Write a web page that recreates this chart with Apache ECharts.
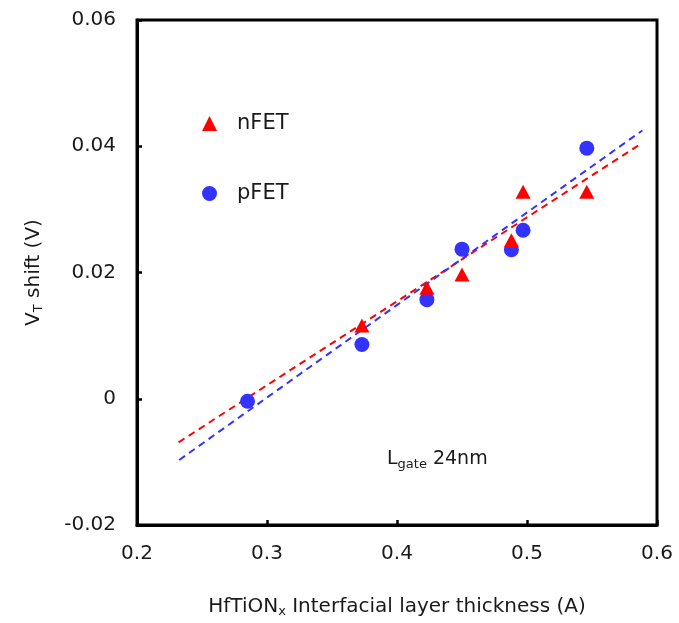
<!DOCTYPE html>
<html><head><meta charset="utf-8">
<script src="https://cdn.jsdelivr.net/npm/echarts@6/dist/echarts.min.js"></script>
<style>html,body{margin:0;padding:0;background:#fff}#c{width:679px;height:623px}</style>
</head><body><div id="c"></div>
<script>
// Data
const nfetX = [0.373, 0.423, 0.450, 0.488, 0.497, 0.546];
const nfetY = [0.0116, 0.0176, 0.0197, 0.0251, 0.0328, 0.0328];
const pfetX = [0.285, 0.373, 0.423, 0.450, 0.488, 0.497, 0.546];
const pfetY = [-0.0004, 0.0086, 0.0157, 0.0237, 0.0236, 0.0267, 0.0397];
// trend line endpoints
const nfetFitX = [0.232, 0.5885];
const nfetFitY = [-0.0069, 0.0405];
const pfetFitX = [0.2325, 0.5887];
const pfetFitY = [-0.0097, 0.0425];
const xTicks = [0.2, 0.3, 0.4, 0.5, 0.6];
const yTicks = [-0.02, 0, 0.02, 0.04, 0.06];

const zip = (a, b) => a.map((v, i) => [v, b[i]]);
const RED = '#FF0000', BLUE = '#3333FF';
const FONT = '"DejaVu Sans", sans-serif';
const TXT = '#1a1a1a';

const chart = echarts.init(document.getElementById('c'));
chart.setOption({
  animation: false,
  backgroundColor: '#fff',
  grid: { left: 137, right: 22, top: 20, bottom: 92, show: true, borderColor: '#000', borderWidth: 3 },
  xAxis: {
    type: 'value', min: xTicks[0], max: xTicks[xTicks.length - 1], interval: 0.1,
    axisLine: { show: true, onZero: false, lineStyle: { color: '#000', width: 3 } },
    axisTick: { show: true, inside: true, length: 5, lineStyle: { color: '#000', width: 2.5 } },
    splitLine: { show: false },
    axisLabel: { color: TXT, fontSize: 20, fontFamily: FONT, margin: 19, formatter: v => v.toFixed(1) },
    name: 'HfTiON{sub|x} Interfacial layer thickness (A)',
    nameLocation: 'middle', nameGap: 70,
    nameTextStyle: { color: TXT, fontSize: 20, fontFamily: FONT,
      rich: { sub: { fontSize: 13, fontFamily: FONT, color: TXT, padding: [10, 0, 0, 0] } } }
  },
  yAxis: {
    type: 'value', min: yTicks[0], max: yTicks[yTicks.length - 1], interval: 0.02,
    axisLine: { show: true, onZero: false, lineStyle: { color: '#000', width: 3 } },
    axisTick: { show: true, inside: true, length: 5, lineStyle: { color: '#000', width: 2.5 } },
    splitLine: { show: false },
    axisLabel: { color: TXT, fontSize: 20, fontFamily: FONT, margin: 21,
      formatter: v => (Math.abs(v) < 1e-9 ? '0' : v.toFixed(2)) },
    name: 'V{sub|T} shift (V)',
    nameLocation: 'middle', nameGap: 92,
    nameTextStyle: { color: TXT, fontSize: 20, fontFamily: FONT,
      rich: { sub: { fontSize: 13, fontFamily: FONT, color: TXT, padding: [10, 0, 0, 0] } } }
  },
  legend: {
    orient: 'vertical', left: 197, top: 108, itemGap: 49, itemWidth: 15, itemHeight: 15,
    data: ['nFET', 'pFET'],
    textStyle: { color: TXT, fontSize: 21, fontFamily: FONT, padding: [0, 0, 0, 15] }
  },
  graphic: [{
    type: 'text', left: 387, top: 450,
    style: { text: 'L{sub|gate} 24nm', fill: TXT, font: '19px "DejaVu Sans", sans-serif',
      rich: { sub: { fontSize: 13, fontFamily: FONT, fill: TXT, padding: [10, 0, 0, 0] } } }
  }],
  series: [
    { name: 'nFET fit', type: 'line', data: zip(nfetFitX, nfetFitY), showSymbol: false, symbol: 'none',
      lineStyle: { color: RED, width: 2, type: [7, 5] }, z: 1, silent: true },
    { name: 'pFET fit', type: 'line', data: zip(pfetFitX, pfetFitY), showSymbol: false, symbol: 'none',
      lineStyle: { color: BLUE, width: 2, type: [7, 5] }, z: 1, silent: true },
    { name: 'nFET', type: 'scatter', symbol: 'triangle', symbolSize: [15, 14], data: zip(nfetX, nfetY),
      itemStyle: { color: RED, opacity: 1 }, z: 3 },
    { name: 'pFET', type: 'scatter', symbol: 'circle', symbolSize: 15, data: zip(pfetX, pfetY),
      itemStyle: { color: BLUE, opacity: 1 }, z: 2 }
  ]
});
</script></body></html>
